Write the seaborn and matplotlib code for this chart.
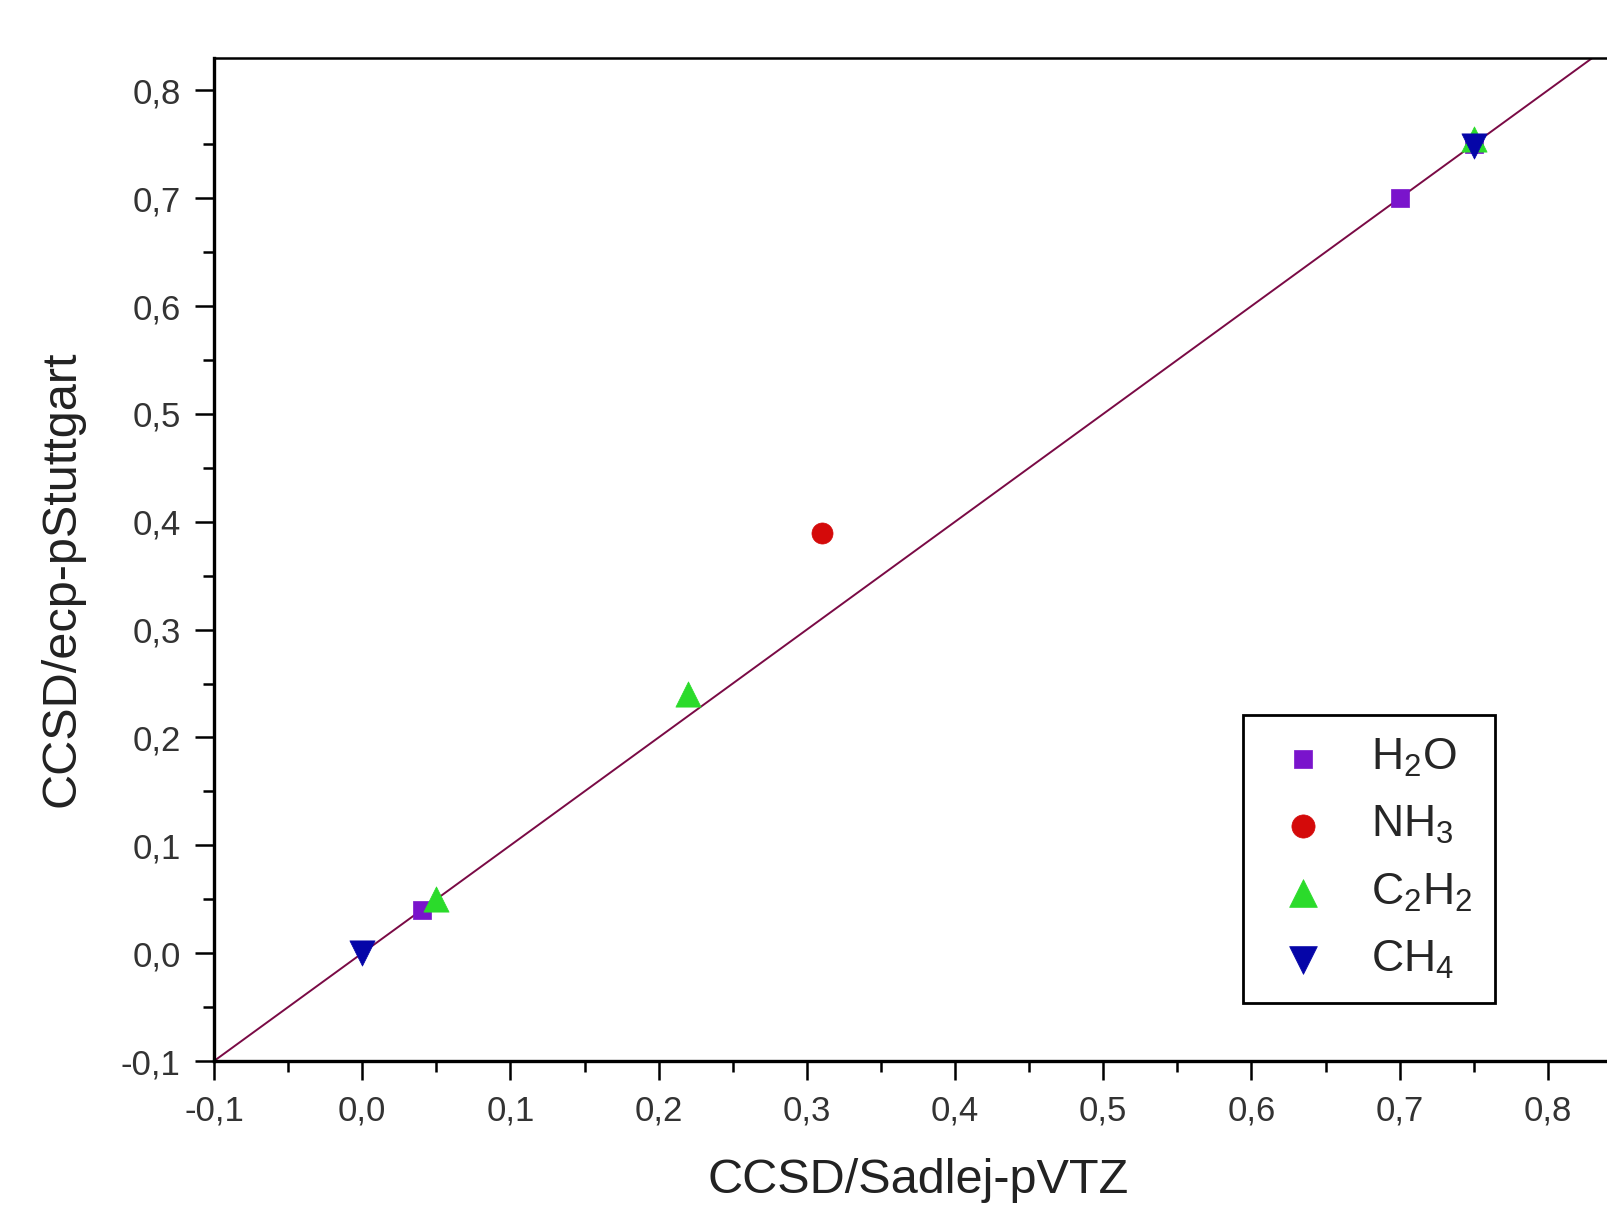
import matplotlib
matplotlib.use("Agg")
import matplotlib.pyplot as plt
from matplotlib.ticker import MultipleLocator, FuncFormatter
import pandas as pd
import seaborn as sns

## Data
species = ["H2O", "H2O", "H2O", "NH3", "C2H2", "C2H2", "C2H2", "CH4", "CH4"]
sadlej = [0.04, 0.70, 0.75, 0.31, 0.05, 0.22, 0.75, 0.00, 0.75]
stuttgart = [0.04, 0.70, 0.75, 0.39, 0.05, 0.24, 0.755, 0.00, 0.748]
line_x = [-0.1, 0.85]
line_y = [-0.1, 0.85]

labels = {"H2O": r"$\mathregular{H_2O}$", "NH3": r"$\mathregular{NH_3}$",
          "C2H2": r"$\mathregular{C_2H_2}$", "CH4": r"$\mathregular{CH_4}$"}
order = ["H2O", "NH3", "C2H2", "CH4"]
colors = {"H2O": "#7A14CC", "NH3": "#D40A0A", "C2H2": "#2BDB2B", "CH4": "#0505A8"}
markers = {"H2O": "s", "NH3": "o", "C2H2": "^", "CH4": "v"}
sizes = {"H2O": 150, "NH3": 230, "C2H2": 330, "CH4": 330}

df = pd.DataFrame({"species": species, "x": sadlej, "y": stuttgart})

sns.set_style("ticks")
plt.rcParams["font.family"] = ["Liberation Sans", "DejaVu Sans"]
plt.rcParams["mathtext.fontset"] = "custom"
plt.rcParams["mathtext.rm"] = "Liberation Sans"

fig = plt.figure(figsize=(16.08, 12.05), dpi=100)
ax = fig.add_axes([0.1331, 0.1195, 0.8756, 0.8324])

## reference line y = x
sns.lineplot(x=line_x, y=line_y, ax=ax, color="#7A0A45", lw=1.4, zorder=1)

## points, one species at a time so each keeps its own marker size
for sp in order:
    sub = df[df["species"] == sp]
    sns.scatterplot(data=sub, x="x", y="y", ax=ax, color=colors[sp],
                    marker=markers[sp], s=sizes[sp], edgecolor=colors[sp],
                    linewidth=0.5, label=labels[sp], zorder=3)

ax.set_xlim(-0.1, 0.85)
ax.set_ylim(-0.1, 0.83)
ax.xaxis.set_major_locator(MultipleLocator(0.1))
ax.xaxis.set_minor_locator(MultipleLocator(0.05))
ax.yaxis.set_major_locator(MultipleLocator(0.1))
ax.yaxis.set_minor_locator(MultipleLocator(0.05))
fmt = FuncFormatter(lambda v, p: f"{v:.1f}".replace(".", ",").replace("-0,0", "0,0"))
ax.xaxis.set_major_formatter(fmt)
ax.yaxis.set_major_formatter(fmt)
ax.tick_params(which="major", direction="out", length=14, width=1.8,
               labelsize=25, colors="black", labelcolor="#333333", pad=10)
ax.tick_params(which="minor", direction="out", length=8, width=1.8, colors="black")

for s in ["left", "bottom"]:
    ax.spines[s].set_linewidth(2.4)
ax.spines["top"].set_linewidth(1.8)
ax.spines["right"].set_linewidth(1.8)
for s in ax.spines.values():
    s.set_color("black")

ax.set_xlabel("CCSD/Sadlej-pVTZ", fontsize=35, color="#222222", labelpad=22)
ax.set_ylabel("CCSD/ecp-pStuttgart", fontsize=35, color="#222222")
ax.yaxis.set_label_coords(-0.092, 0.481)

h, l = ax.get_legend_handles_labels()
leg = ax.legend(h, l, loc="upper left", bbox_to_anchor=(0.731, 0.345),
                borderaxespad=0, fontsize=32, frameon=True, fancybox=False,
                edgecolor="black", framealpha=1, labelspacing=0.56,
                handletextpad=0.68, borderpad=0.5, handlelength=1.7,
                markerscale=1.1)
leg.get_frame().set_linewidth(2)

fig.savefig("out.png", dpi=100)
